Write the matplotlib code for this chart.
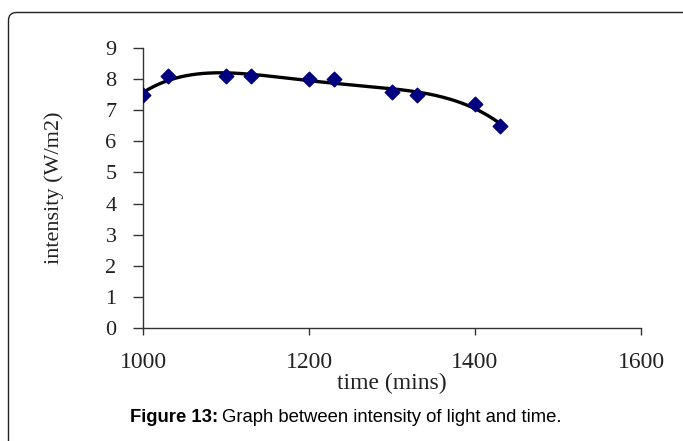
import matplotlib
matplotlib.use("Agg")
import matplotlib.pyplot as plt
import numpy as np
from matplotlib.patches import FancyBboxPatch
from matplotlib.transforms import IdentityTransform

# data
time_mins = [1000, 1030, 1100, 1130, 1200, 1230, 1300, 1330, 1400, 1430]
intensity = [7.5, 8.1, 8.1, 8.1, 8.0, 8.0, 7.6, 7.5, 7.2, 6.5]
x_ticks = [1000, 1200, 1400, 1600]
y_ticks = list(range(0, 10))

W, H = 683, 441
fig = plt.figure(figsize=(W / 100, H / 100), dpi=100)

# rounded frame, only top-left corner visible (pixel coords)
frame = FancyBboxPatch((8.5, -30), 700, H - 12.5 + 30,
                       boxstyle="round,pad=0,rounding_size=8",
                       transform=IdentityTransform(), fill=False,
                       edgecolor="#222222", linewidth=1.0)
fig.patches.append(frame)

ax = fig.add_axes([143 / W, 1 - 328 / H, (641 - 143) / W, (328 - 48) / H])

# polynomial trend line through the points
coef = np.polyfit(time_mins, intensity, 4)
xs = np.linspace(min(time_mins), max(time_mins), 200)
ax.plot(xs, np.polyval(coef, xs), color="black", linewidth=2.4, zorder=2)
ax.scatter(time_mins, intensity, marker="D", s=55, color="#000080", zorder=3)

ax.set_xlim(1000, 1600)
ax.set_ylim(0, 9)
ax.set_xticks(x_ticks)
ax.set_yticks(y_ticks)
ax.spines["top"].set_visible(False)
ax.spines["right"].set_visible(False)
for s in ["left", "bottom"]:
    ax.spines[s].set_color("#333333")
    ax.spines[s].set_linewidth(1.0)
ax.tick_params(direction="out", color="#333333", width=1.0)
ax.tick_params(axis="x", length=5, pad=12)
ax.tick_params(axis="y", length=7, pad=12)
for lab in ax.get_xticklabels():
    lab.set_family("Liberation Serif")
    lab.set_fontsize(17)
    lab.set_color("#222222")
for lab in ax.get_yticklabels():
    lab.set_family("Liberation Serif")
    lab.set_fontsize(16)
    lab.set_color("#222222")

ax.set_xlabel("time (mins)", family="Liberation Serif", fontsize=17,
              color="#222222", labelpad=0)
ax.set_ylabel("intensity (W/m2)", family="Liberation Serif", fontsize=16,
              color="#222222", labelpad=30)

# caption: bold part + normal part
cap_y = 1 - 418 / H
t1 = fig.text(130 / W, cap_y, "Figure 13:", ha="left", va="center",
              fontsize=13.3, fontweight="bold", family="Liberation Sans")
fig.canvas.draw()
bb = t1.get_window_extent()
fig.text((bb.x1 + 4) / W, cap_y, "Graph between intensity of light and time.",
         ha="left", va="center", fontsize=13.3, family="Liberation Sans")

fig.savefig("out.png", dpi=100)
